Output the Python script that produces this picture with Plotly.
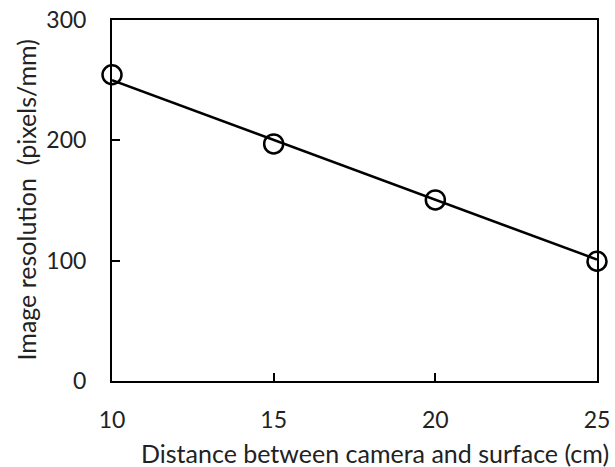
import plotly.graph_objects as go

distance_cm = [10, 15, 20, 25]
resolution_px_mm = [254.5, 197, 150.5, 99.5]
fit_x = [10, 25]
fit_y = [250, 101]

x_ticks = [10, 15, 20, 25]
y_ticks = [0, 100, 200, 300]

FONT = "Lato"

fig = go.Figure()
fig.add_trace(go.Scatter(x=fit_x, y=fit_y, mode="lines",
                         line=dict(color="black", width=2.5),
                         showlegend=False, cliponaxis=False, hoverinfo="skip"))
fig.add_trace(go.Scatter(x=distance_cm, y=resolution_px_mm, mode="markers",
                         marker=dict(symbol="circle-open", size=19, color="black",
                                     line=dict(width=2.5, color="black")),
                         showlegend=False, cliponaxis=False))

fig.update_layout(
    width=615, height=467,
    margin=dict(l=112, r=18, t=20, b=86),
    paper_bgcolor="white", plot_bgcolor="white",
    font=dict(family=FONT, size=23, color="#222"),
    xaxis=dict(range=[10, 25], tickvals=x_ticks, ticks="inside", ticklen=8,
               tickwidth=1.5, tickcolor="black", showgrid=False, zeroline=False,
               showline=True, linecolor="black", linewidth=2, mirror=True,
               automargin=False,
               ticklabelstandoff=17, ticklabeloverflow="allow", tickfont=dict(size=23)),
    yaxis=dict(range=[0, 300], tickvals=y_ticks, ticks="inside", ticklen=8,
               tickwidth=1.5, tickcolor="black", showgrid=False, zeroline=False,
               showline=True, linecolor="black", linewidth=2, mirror=True,
               automargin=False,
               ticklabelstandoff=19, ticklabeloverflow="allow", tickfont=dict(size=23)),
    annotations=[
        dict(text="Distance between camera and surface (cm)", xref="paper", yref="paper",
             x=1.0, y=0, xanchor="right", yanchor="top", yshift=-55, xshift=14,
             showarrow=False, font=dict(size=25, color="#222")),
        dict(text="Image resolution  (pixels/mm)", xref="paper", yref="paper",
             x=0, y=0.5, xanchor="center", yanchor="middle", xshift=-87, showarrow=False,
             textangle=-90, font=dict(size=25, color="#222")),
    ],
)

fig.write_html("out.html", config={"displayModeBar": False},
               post_script="document.body.style.margin='0';")
